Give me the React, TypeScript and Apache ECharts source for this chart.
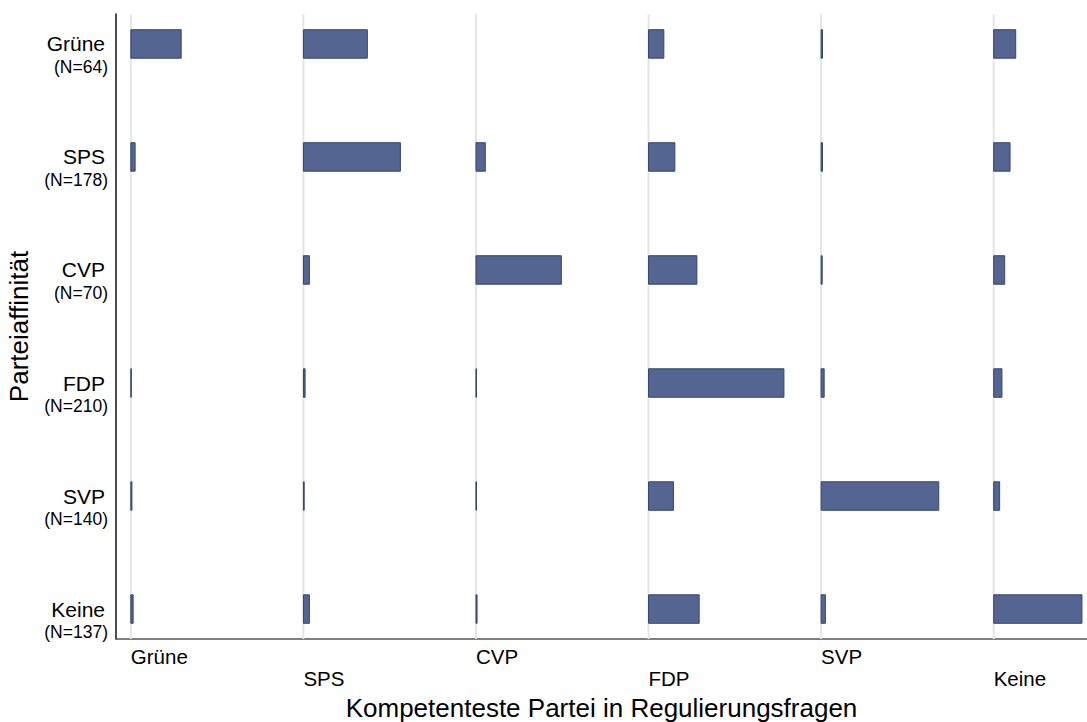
import React, { useEffect, useRef } from "react";
import * as echarts from "echarts";

// Rows: party affinity (y axis) and their sample sizes
const ROWS = ["Grüne", "SPS", "CVP", "FDP", "SVP", "Keine"];
const ROW_N = [64, 178, 70, 210, 140, 137];
// Columns: most competent party (x axis)
const COLS = ["Grüne", "SPS", "CVP", "FDP", "SVP", "Keine"];

// Share (%) of each row naming each column party
const gruene = [32.9, 41.8, 0, 10.0, 0.9, 14.4];
const sps = [2.8, 63.4, 6.1, 17.2, 0.9, 10.7];
const cvp = [0, 3.9, 55.8, 31.6, 0.7, 7.2];
const fdp = [0.3, 1.1, 0.3, 88.5, 2.0, 5.4];
const svp = [0.7, 0.5, 0.3, 16.3, 76.9, 3.9];
const keine = [1.5, 3.9, 0.7, 33.1, 2.8, 57.7];

const SHARES = [gruene, sps, cvp, fdp, svp, keine];

const COL_STEP = 112.8; // horizontal offset between column panels (in % units)
const BAR_H = 0.252; // bar thickness in row units
const FONT = "'Liberation Sans', Arial, sans-serif";

export default function App() {
  const ref = useRef<HTMLDivElement>(null);

  useEffect(() => {
    if (!ref.current) return;
    const chart = echarts.init(ref.current, undefined, { renderer: "svg" });

    const barData: number[][] = [];
    SHARES.forEach((row, r) => {
      row.forEach((v, c) => {
        if (v > 0) barData.push([c, r, v]);
      });
    });
    const gridData = COLS.map((_, c) => [c, 0]);

    const option: any = {
      animation: false,
      backgroundColor: "#ffffff",
      textStyle: { fontFamily: FONT },
      grid: {
        left: 116,
        right: 0,
        top: 14,
        bottom: 83,
        containLabel: false,
        outerBoundsMode: "none",
      },
      xAxis: {
        type: "value",
        min: -9.7,
        max: 625,
        name: "Kompetenteste Partei in Regulierungsfragen",
        nameLocation: "middle",
        nameGap: 56,
        nameTextStyle: { fontSize: 26, color: "#000", fontFamily: FONT },
        axisLine: { show: true, onZero: false, lineStyle: { color: "#555", width: 1.5 } },
        axisTick: { show: false, customValues: COLS.map((_, i) => i * COL_STEP) },
        splitLine: { show: false },
        axisLabel: {
          customValues: COLS.map((_, i) => i * COL_STEP),
          formatter: (val: number) => {
            const i = Math.round(val / COL_STEP);
            const name = COLS[i] ?? "";
            return i % 2 === 1 ? "\n" + name : name;
          },
          align: "left",
          margin: 7,
          fontSize: 20.5,
          lineHeight: 21.5,
          color: "#000",
          fontFamily: FONT,
        },
      },
      yAxis: {
        type: "value",
        inverse: true,
        min: -0.265,
        max: 5.265,
        name: "Parteiaffinität",
        nameLocation: "middle",
        nameGap: 84,
        nameRotate: 90,
        nameTextStyle: { fontSize: 26, color: "#000", fontFamily: FONT },
        axisLine: { show: true, onZero: false, lineStyle: { color: "#111", width: 1.5 } },
        axisTick: { show: false, customValues: ROWS.map((_, i) => i) },
        splitLine: { show: false },
        axisLabel: {
          customValues: ROWS.map((_, i) => i),
          formatter: (val: number) => {
            const i = Math.round(val);
            return `{s| }\n{a|${ROWS[i]}}\n{b|(N=${ROW_N[i]})}`;
          },
          align: "right",
          margin: 8,
          color: "#000",
          fontFamily: FONT,
          rich: {
            s: { fontSize: 17, lineHeight: 22 },
            a: { fontSize: 21, lineHeight: 24, padding: [0, 3, 0, 0], fontFamily: FONT, color: "#000" },
            b: { fontSize: 17.5, lineHeight: 22, fontFamily: FONT, color: "#000" },
          },
        },
      },
      series: [
        {
          type: "custom",
          name: "grid",
          z: 1,
          silent: true,
          data: gridData,
          renderItem: (params: any, api: any) => {
            const c = api.value(0);
            const cs = params.coordSys;
            const p = api.coord([c * COL_STEP, 0]);
            return {
              type: "line",
              shape: { x1: p[0], y1: cs.y, x2: p[0], y2: cs.y + cs.height },
              style: { stroke: "#e5e5e5", lineWidth: 2 },
            };
          },
        },
        {
          type: "custom",
          name: "share",
          z: 3,
          data: barData,
          renderItem: (params: any, api: any) => {
            const c = api.value(0);
            const r = api.value(1);
            const v = api.value(2);
            const start = api.coord([c * COL_STEP, r]);
            const end = api.coord([c * COL_STEP + v, r]);
            const h = api.size([0, BAR_H])[1];
            return {
              type: "rect",
              shape: { x: start[0], y: start[1] - h / 2, width: end[0] - start[0], height: h },
              style: { fill: "#536590", stroke: "#34466f", lineWidth: 1 },
            };
          },
        },
      ],
    };

    chart.setOption(option);
    return () => chart.dispose();
  }, []);

  return (
    <div
      ref={ref}
      style={{ position: "fixed", left: 0, top: 0, width: 1087, height: 722, background: "#fff" }}
    />
  );
}
